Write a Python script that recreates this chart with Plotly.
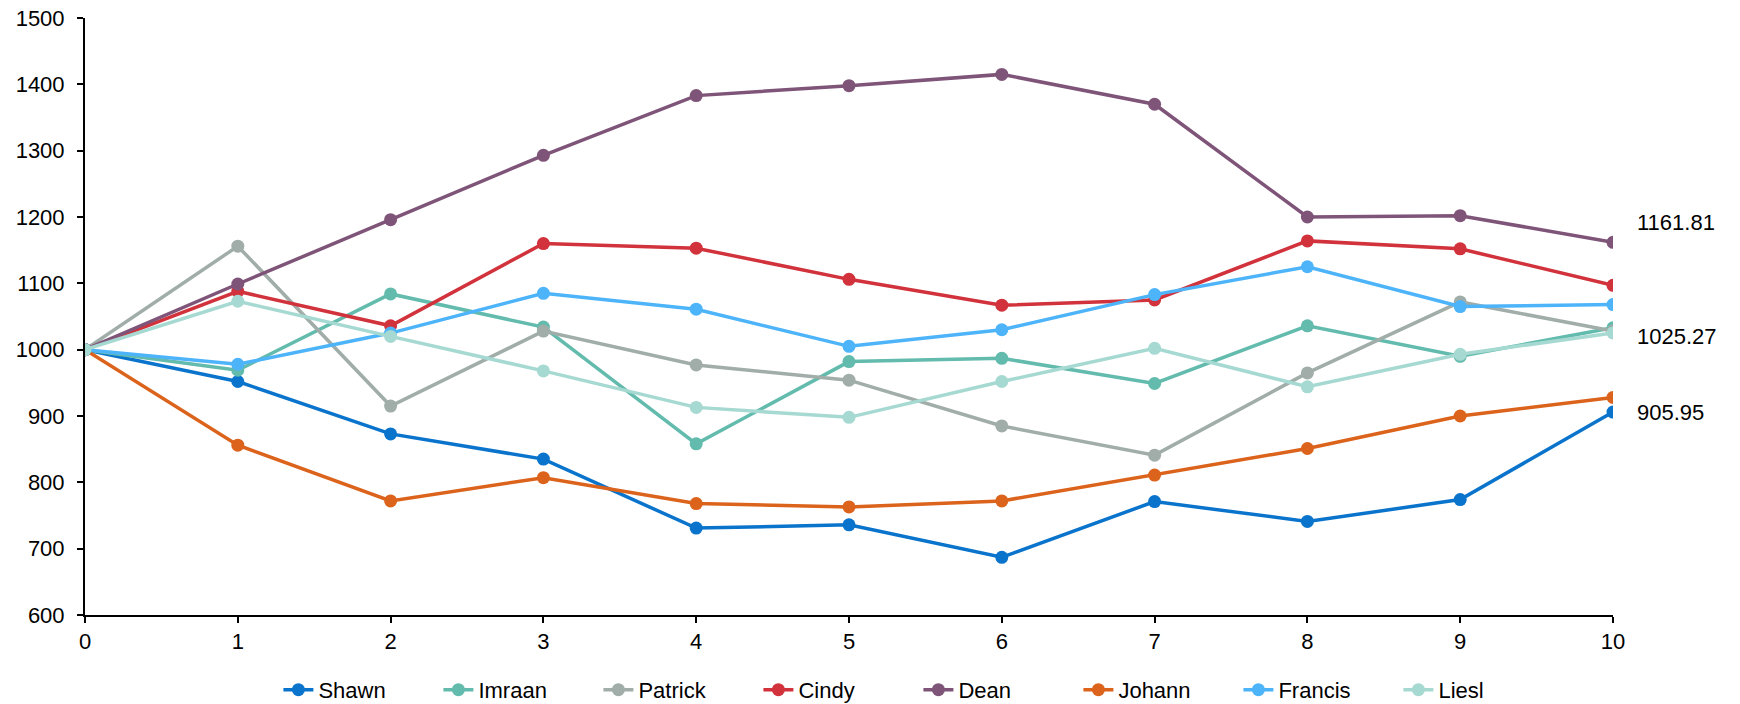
import plotly.graph_objects as go

x_vals = list(range(11))

names = ["Shawn", "Imraan", "Patrick", "Cindy", "Dean", "Johann", "Francis", "Liesl"]
colors = ["#0A74CC", "#62BBAD", "#A0ADA9", "#D1323B", "#7F5479", "#DC631B", "#4DB4FA", "#A6D9D1"]

shawn   = [1000, 952, 873, 835, 731, 736, 687, 771, 741, 774, 905.95]
imraan  = [1000, 969, 1084, 1034, 858, 982, 987, 949, 1036, 990, 1033]
patrick = [1000, 1156, 915, 1028, 977, 954, 885, 841, 965, 1072, 1028]
cindy   = [1000, 1088, 1036, 1160, 1153, 1106, 1067, 1075, 1164, 1152, 1097]
dean    = [1000, 1099, 1196, 1293, 1383, 1398, 1415, 1370, 1200, 1202, 1161.81]
johann  = [1000, 856, 772, 807, 768, 763, 772, 811, 851, 900, 928]
francis = [1000, 978, 1025, 1085, 1061, 1005, 1030, 1083, 1125, 1065, 1068]
liesl   = [1000, 1073, 1020, 968, 913, 898, 952, 1002, 944, 993, 1025.27]

series = [shawn, imraan, patrick, cindy, dean, johann, francis, liesl]

end_labels = ["1161.81", "1025.27", "905.95"]
end_values = [1161.81, 1025.27, 905.95]
end_yshift = [20, -4, 0]

y_ticks = [600, 700, 800, 900, 1000, 1100, 1200, 1300, 1400, 1500]

fig = go.Figure()
for name, col, vals in zip(names, colors, series):
    fig.add_trace(go.Scatter(
        x=x_vals, y=vals, name=name, mode="lines+markers",
        line=dict(color=col, width=3.5),
        marker=dict(color=col, size=13),
    ))

for lab, val, ys in zip(end_labels, end_values, end_yshift):
    fig.add_annotation(x=10, y=val, text=lab, showarrow=False,
                       xanchor="left", yanchor="middle", xshift=22, yshift=ys,
                       font=dict(size=22, color="#000000"))

font_family = "Liberation Sans, Arial, sans-serif"
fig.update_layout(
    width=1740, height=704,
    margin=dict(l=85, r=127, t=18, b=89, autoexpand=False),
    paper_bgcolor="white", plot_bgcolor="white",
    font=dict(family=font_family, size=22, color="#000000"),
    showlegend=True,
    legend=dict(orientation="h", x=0.16, xanchor="left", xref="container",
                y=0.02, yanchor="middle", yref="container",
                font=dict(size=22), itemwidth=30, entrywidth=115,
                entrywidthmode="pixels", traceorder="normal"),
    xaxis=dict(range=[0, 10], tickvals=x_vals, showgrid=False, zeroline=False,
               showline=True, linecolor="#000000", linewidth=2,
               ticks="outside", ticklen=6, tickcolor="#000000", tickwidth=2,
               tickfont=dict(size=22)),
    yaxis=dict(range=[600, 1500], tickvals=y_ticks, showgrid=False, zeroline=False,
               showline=True, linecolor="#000000", linewidth=2,
               ticks="outside", ticklen=6, tickcolor="#000000", tickwidth=2,
               ticklabelstandoff=8, tickfont=dict(size=22)),
)

fig.write_html("out.html")
